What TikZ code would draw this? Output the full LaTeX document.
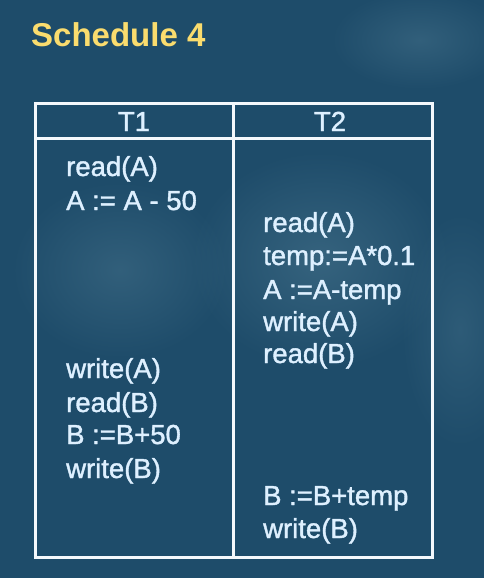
\documentclass[tikz,border=0pt]{standalone}
\usepackage{fontspec}
\setmainfont{Liberation Sans}
\newfontfamily\codefont[FakeBold=1.4]{Liberation Sans}
\usetikzlibrary{fadings}
\tikzfading[name=softblob, inner color=transparent!0, outer color=transparent!100]
\definecolor{bgblue}{RGB}{30,76,106}
\definecolor{bglight}{RGB}{70,115,140}
\definecolor{txtblue}{RGB}{222,240,255}
\definecolor{titleyel}{RGB}{250,220,110}
\definecolor{linewhite}{RGB}{244,248,252}
\tikzset{
  code/.style={anchor=base west, inner sep=0pt, text=txtblue, font=\codefont\fontsize{27.5}{30}\selectfont},
  head/.style={anchor=base, inner sep=0pt, text=txtblue, font=\codefont\fontsize{27.5}{30}\selectfont},
  grid/.style={draw=linewhite, line width=3pt},
  blob/.style={fill=bglight, path fading=softblob}
}
\begin{document}
\begin{tikzpicture}[x=1pt,y=-1pt]
\fill[bgblue] (0,0) rectangle (484,578);
\useasboundingbox (0,0) rectangle (484,578);
\fill[blob, opacity=0.6] (320,260) ellipse (130 and 110);
\fill[blob, opacity=0.5] (120,270) ellipse (110 and 90);
\fill[blob, opacity=0.5] (420,40) ellipse (90 and 50);
\fill[blob, opacity=0.4] (460,330) ellipse (60 and 120);
\node[anchor=base west, inner sep=0pt, text=titleyel, font=\fontsize{33}{36}\selectfont\bfseries] (title) at (31,47) {Schedule 4};
% table
\draw[grid] (35,103) rectangle (432,557);
\draw[grid] (35,138) -- (432,138);
\draw[grid] (233,103) -- (233,557);
\node[head] (h1) at (134,131) {T1};
\node[head] (h2) at (330,131) {T2};
% T1
\node[code] (a1) at (66,176) {read(A)};
\node[code] (a2) at (66,210) {A := A - 50};
\node[code] (a3) at (66,378) {write(A)};
\node[code] (a4) at (66,412) {read(B)};
\node[code] (a5) at (66,444) {B :=B+50};
\node[code] (a6) at (66,478) {write(B)};
% T2
\node[code] (b1) at (263,232) {read(A)};
\node[code] (b2) at (263,265) {temp:=A*0.1};
\node[code] (b3) at (263,299) {A :=A-temp};
\node[code] (b4) at (263,331) {write(A)};
\node[code] (b5) at (263,363) {read(B)};
\node[code] (b6) at (263,505) {B :=B+temp};
\node[code] (b7) at (263,538) {write(B)};
\end{tikzpicture}
\end{document}
